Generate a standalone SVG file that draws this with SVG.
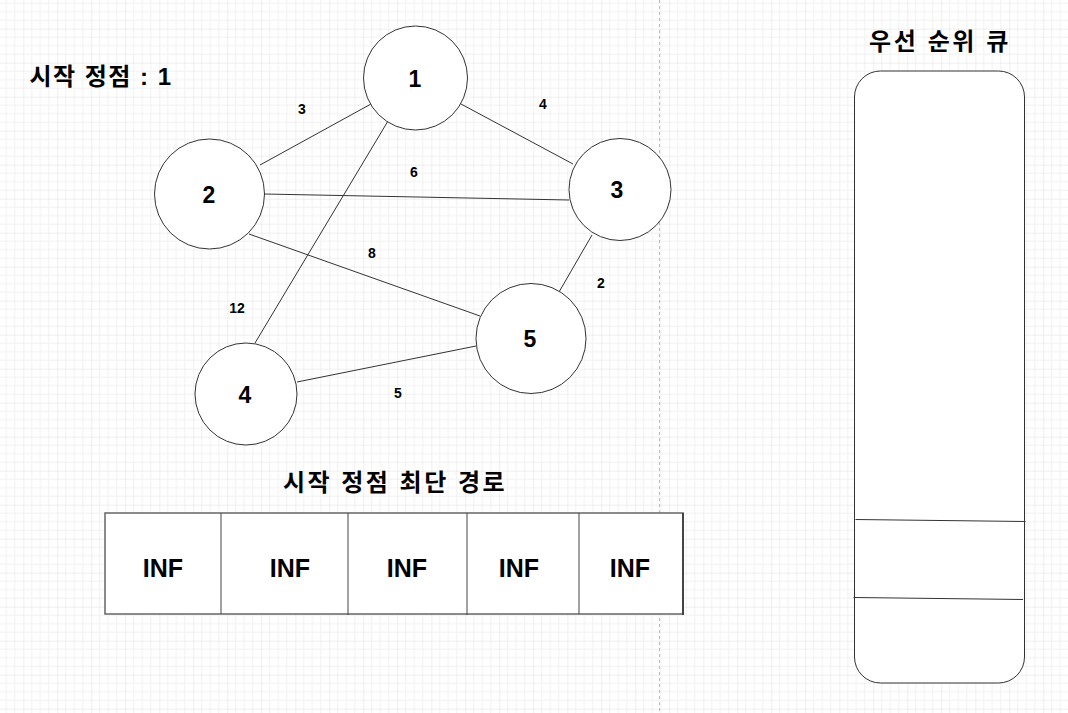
<svg xmlns="http://www.w3.org/2000/svg" width="1068" height="713" viewBox="0 0 1068 713">
<style>
text{font-family:"Liberation Sans","Noto Sans CJK KR",sans-serif;font-weight:bold;fill:#000;text-anchor:middle;dominant-baseline:central}
.node circle{fill:#fff;stroke:#333;stroke-width:1}
.node text{font-size:23px}
.edge{stroke:#333;stroke-width:1;fill:none}
.elabel{font-size:14px}
.title{font-size:24px}
.inf{font-size:25px}
.cell{stroke:#444;stroke-width:1}
</style>
<defs>
<pattern id="grid" x="23.3" y="28.7" width="34" height="34" patternUnits="userSpaceOnUse">
<path d="M8.5 0V34M17 0V34M25.5 0V34M0 8.5H34M0 17H34M0 25.5H34" stroke="#f1f1f1" stroke-width="1" fill="none"/>
<path d="M0 0V34M0 0H34" stroke="#e0e0e0" stroke-width="1" fill="none"/>
</pattern>
</defs>
<rect width="1068" height="713" fill="#fff"/>
<rect width="1068" height="713" fill="url(#grid)"/>
<line x1="659.5" y1="0" x2="659.5" y2="713" stroke="#bbb" stroke-width="1" stroke-dasharray="3 3"/>

<g id="connectors">
<line class="edge" x1="260" y1="165" x2="371" y2="104"/>
<line class="edge" x1="461" y1="104" x2="573" y2="164"/>
<line class="edge" x1="388" y1="121" x2="255" y2="343"/>
<line class="edge" x1="264" y1="194" x2="569" y2="200"/>
<line class="edge" x1="249" y1="234" x2="480" y2="316"/>
<line class="edge" x1="592" y1="235" x2="559" y2="292"/>
<line class="edge" x1="297" y1="382" x2="476" y2="346"/>
<text class="elabel" x="302" y="109">3</text>
<text class="elabel" x="543" y="104">4</text>
<text class="elabel" x="414" y="172">6</text>
<text class="elabel" x="372" y="253">8</text>
<text class="elabel" x="237" y="308">12</text>
<text class="elabel" x="601" y="283">2</text>
<text class="elabel" x="398" y="393">5</text>
</g>

<g id="node1" class="node"><circle cx="415.5" cy="78" r="52"/><text x="415" y="79">1</text></g>
<g id="node2" class="node"><circle cx="209.5" cy="194" r="55"/><text x="209" y="195">2</text></g>
<g id="node3" class="node"><circle cx="620" cy="189.5" r="51"/><text x="617" y="190">3</text></g>
<g id="node4" class="node"><circle cx="246" cy="394" r="51"/><text x="245" y="395">4</text></g>
<g id="node5" class="node"><circle cx="531" cy="338.5" r="55"/><text x="530" y="339">5</text></g>

<g id="start-label"><text class="title" x="101" y="76" letter-spacing="1.5">시작 정점 : 1</text></g>

<g id="distance-table">
<text class="title" x="395" y="482" letter-spacing="2.5">시작 정점 최단 경로</text>
<rect x="105" y="513" width="578" height="101" fill="#fff" stroke="#666" stroke-width="1.5"/>
<line class="cell" x1="221" y1="513" x2="221" y2="614"/>
<line class="cell" x1="348" y1="513" x2="348" y2="615"/>
<line class="cell" x1="467" y1="513" x2="467" y2="615"/>
<line class="cell" x1="579" y1="513" x2="579" y2="614"/>
<line x1="683" y1="513" x2="683" y2="615" stroke="#444" stroke-width="2"/>
<text class="inf" x="163" y="568">INF</text>
<text class="inf" x="290" y="568">INF</text>
<text class="inf" x="407" y="568">INF</text>
<text class="inf" x="519" y="568">INF</text>
<text class="inf" x="630" y="568">INF</text>
</g>

<g id="priority-queue">
<text class="title" x="940" y="41" letter-spacing="2.6">우선 순위 큐</text>
<rect x="854.5" y="71" width="170" height="612" rx="26" ry="26" fill="#fff" stroke="#333" stroke-width="1"/>
<line x1="855.5" y1="519.5" x2="1025.5" y2="521.5" stroke="#333" stroke-width="1"/>
<line x1="853.5" y1="597.5" x2="1023" y2="599.5" stroke="#333" stroke-width="1"/>
</g>
</svg>
